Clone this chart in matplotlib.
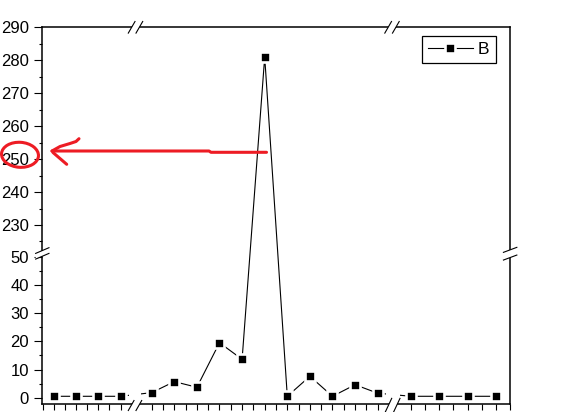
import numpy as np
import matplotlib
matplotlib.use('Agg')
import matplotlib.pyplot as plt
from matplotlib.lines import Line2D
from matplotlib.patches import Ellipse, Polygon
from matplotlib.transforms import IdentityTransform

plt.rcParams['font.family'] = ['Liberation Sans', 'DejaVu Sans']

# data
x_idx = list(range(1, 20))
values_B = [0.5, 0.5, 0.5, 0.5,
            1.8, 5.7, 3.7, 19.5, 13.6, 281, 0.5, 7.6, 0.5, 4.6, 1.6,
            0.5, 0.5, 0.5, 0.5]
series_label = 'B'
y_major_low = [0, 10, 20, 30, 40, 50]
y_major_high = [230, 240, 250, 260, 270, 280, 290]
y_minor_low = [5, 15, 25, 35, 45]
y_minor_high = [225, 235, 245, 255, 265, 275, 285]
x_major = [1, 2, 3, 4, 5, 6, 7, 8, 9, 10, 11, 12, 13, 14, 15, 16, 17, 18, 19]
x_minor = [0.5, 1.5, 2.5, 3.5, 5.5, 6.5, 7.5, 8.5, 9.5, 10.5, 11.5, 12.5,
           13.5, 14.5, 16.5, 17.5, 18.5, 19.5]

W, H = 583, 412
RED = '#ED1C24'

# broken axes: piecewise mapping data -> pixel (measured from top-left)
X_KNOTS = [0, 4, 5, 15, 16, 20]
X_PIX = [31.8, 120.6, 151.7, 377.7, 411.0, 524.3]
Y_KNOTS = [-50, 50, 221, 400]
Y_PIX = [538.7, 256.7, 254.65, -335.15]


def fwd_x(x):
    return np.interp(x, X_KNOTS, X_PIX)


def inv_x(p):
    return np.interp(p, X_PIX, X_KNOTS)


def fwd_y(v):
    return -np.interp(v, Y_KNOTS, Y_PIX)


def inv_y(u):
    return np.interp(-np.asarray(u), Y_PIX[::-1], Y_KNOTS[::-1])


xlim = (0.473, 19.5)
ylim = (-2.06, 290)

fig = plt.figure(figsize=(W / 100, H / 100), dpi=100)
x0, x1 = float(fwd_x(xlim[0])), float(fwd_x(xlim[1]))
ytop, ybot = float(-fwd_y(ylim[1])), float(-fwd_y(ylim[0]))
ax = fig.add_axes([x0 / W, (H - ybot) / H, (x1 - x0) / W, (ybot - ytop) / H])
ax.set_xscale('function', functions=(fwd_x, inv_x))
ax.set_yscale('function', functions=(fwd_y, inv_y))
ax.set_xlim(xlim)
ax.set_ylim(ylim)

ax.plot(x_idx, values_B, color='k', lw=0.8, marker='s', ms=7.7,
        mfc='k', mec='w', mew=1.9, label=series_label)

# the data line is cut where the x axis is broken
for pa, pb in [(129, 141.5), (386.5, 400)]:
    ax.axvspan(inv_x(pa), inv_x(pb), color='w', lw=0, zorder=2.2)

ax.set_yticks(y_major_low + y_major_high, [str(v) for v in y_major_low + y_major_high])
ax.set_yticks(y_minor_low + y_minor_high, minor=True)
ax.set_xticks(x_major, [])
ax.set_xticks(x_minor, minor=True)
for s in ax.spines.values():
    s.set_linewidth(1.1)
ax.tick_params(axis='y', which='major', direction='out', length=5.8, width=0.8,
               pad=3.8, labelsize=12)
ax.tick_params(axis='y', which='minor', direction='out', length=2.4, width=0.8)
ax.tick_params(axis='x', which='both', direction='out', length=4, width=0.8,
               labelbottom=False)

leg = ax.legend(loc='upper right',
                bbox_to_anchor=((495.7 - x0) / (x1 - x0), (ybot - 36) / (ybot - ytop)),
                borderaxespad=0, fancybox=False, edgecolor='k', framealpha=1,
                fontsize=12.5, handlelength=2.6, handletextpad=0.3, borderpad=0.35)
leg.get_frame().set_linewidth(0.9)


# break marks, pixel coords from top-left
def draw_break(cx, cy, v, s):
    ends = []
    for k in (-0.5, 0.5):
        mx, my = cx + k * s[0], cy + k * s[1]
        ends.append(((mx - v[0] / 2, my - v[1] / 2), (mx + v[0] / 2, my + v[1] / 2)))
    poly = [ends[0][0], ends[0][1], ends[1][1], ends[1][0]]
    fig.add_artist(Polygon([(px, H - py) for px, py in poly], closed=True,
                           facecolor='w', edgecolor='none',
                           transform=IdentityTransform(), zorder=5))
    for a, b in ends:
        fig.add_artist(Line2D([a[0], b[0]], [H - a[1], H - b[1]], color='k', lw=0.8,
                              transform=IdentityTransform(), zorder=6))


draw_break(135.5, ytop, (6.7, -11.6), (7.7, 0))
draw_break(392.0, ytop, (6.7, -11.6), (7.7, 0))
draw_break(135.0, ybot + 2, (5.7, -10.0), (7.7, 0))
draw_break(392.5, ybot + 2, (6.7, -14.3), (8.3, 0))
draw_break(x0, 253.4, (13.3, -5.7), (0, 5.7))
draw_break(x1, 253.7, (13.4, -5.0), (0, 7.7))

# red hand-drawn markup
red_paths = [
    [(266.5, 152.3), (211, 152.3), (209, 151), (52, 151)],
    [(52, 151), (60, 146.5), (70, 143.5), (76, 141.5), (79, 138.7)],
    [(53, 152.5), (66.7, 164.3)],
]
for path in red_paths:
    fig.add_artist(Line2D([p[0] for p in path], [H - p[1] for p in path], color=RED,
                          lw=2.2, solid_capstyle='round', solid_joinstyle='round',
                          transform=IdentityTransform(), zorder=7))
fig.add_artist(Ellipse((20, H - 154.8), 37, 25, angle=-4, facecolor='none',
                       edgecolor=RED, lw=2.2, transform=IdentityTransform(), zorder=7))

fig.savefig('out.png', dpi=100)
